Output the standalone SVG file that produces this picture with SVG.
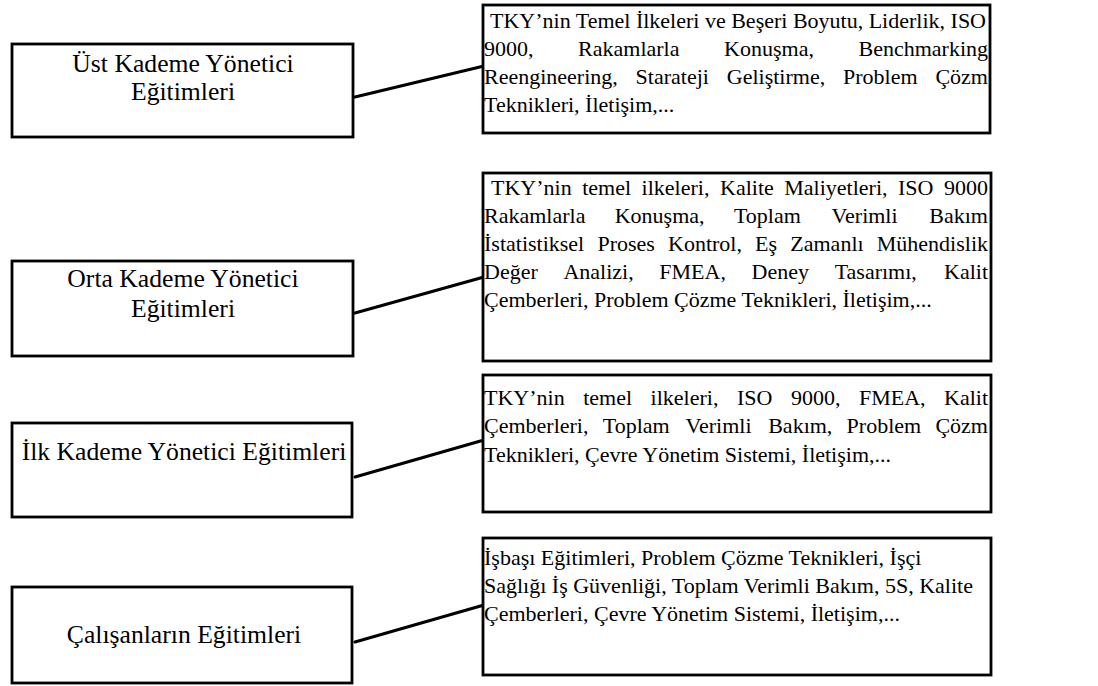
<svg xmlns="http://www.w3.org/2000/svg" width="1098" height="686" viewBox="0 0 1098 686">
<style>
.box{fill:#fff;stroke:#000;stroke-width:2.8}
.conn{stroke:#000;stroke-width:3;fill:none;stroke-linecap:round}
.l{font-family:"Liberation Serif","Times New Roman",serif;font-size:25.67px;fill:#000;text-anchor:middle}
.r{font-family:"Liberation Serif","Times New Roman",serif;font-size:22px;fill:#000}
</style>
<rect width="1098" height="686" fill="#fff"/>
<g id="connectors">
<line class="conn" x1="355" y1="97" x2="484" y2="66"/>
<line class="conn" x1="355" y1="313" x2="484" y2="277"/>
<line class="conn" x1="355" y1="477" x2="484" y2="440"/>
<line class="conn" x1="355" y1="642" x2="484" y2="605"/>
</g>
<g id="ust">
<rect class="box" x="12" y="44" width="341" height="93"/>
<text class="l" x="183" y="72">Üst Kademe Yönetici</text>
<text class="l" x="183" y="100">Eğitimleri</text>
</g>
<g id="orta">
<rect class="box" x="12" y="261" width="341" height="95"/>
<text class="l" x="183" y="287">Orta Kademe Yönetici</text>
<text class="l" x="183" y="317">Eğitimleri</text>
</g>
<g id="ilk">
<rect class="box" x="12" y="423" width="340" height="94"/>
<text class="l" x="184" y="460">İlk Kademe Yönetici Eğitimleri</text>
</g>
<g id="calisan">
<rect class="box" x="12" y="587" width="340" height="96"/>
<text class="l" x="184" y="643">Çalışanların Eğitimleri</text>
</g>
<g id="ust-icerik">
<rect class="box" x="483" y="5" width="507" height="128"/>
<text class="r" x="490" y="28">TKY’nin Temel İlkeleri ve Beşeri Boyutu, Liderlik, ISO</text>
<text class="r" y="56"><tspan x="484">9000,</tspan><tspan x="578.1">Rakamlarla</tspan><tspan x="724.1">Konuşma,</tspan><tspan x="858.5">Benchmarking</tspan></text>
<text class="r" y="84"><tspan x="484">Reengineering,</tspan><tspan x="635.6">Starateji</tspan><tspan x="726.8">Geliştirme,</tspan><tspan x="843">Problem</tspan><tspan x="935.4">Çözm</tspan></text>
<text class="r" x="484" y="112">Teknikleri, İletişim,...</text>
</g>
<g id="orta-icerik">
<rect class="box" x="483" y="173" width="508" height="188"/>
<text class="r" y="195"><tspan x="491">TKY’nin</tspan><tspan x="582.2">temel</tspan><tspan x="641.6">ilkeleri,</tspan><tspan x="720">Kalite</tspan><tspan x="784.3">Maliyetleri,</tspan><tspan x="898">ISO</tspan><tspan x="944">9000</tspan></text>
<text class="r" y="223"><tspan x="484">Rakamlarla</tspan><tspan x="614.7">Konuşma,</tspan><tspan x="733.9">Toplam</tspan><tspan x="831.6">Verimli</tspan><tspan x="929.3">Bakım</tspan></text>
<text class="r" y="251"><tspan x="484">İstatistiksel</tspan><tspan x="597.4">Proses</tspan><tspan x="668">Kontrol,</tspan><tspan x="755.1">Eş</tspan><tspan x="790.3">Zamanlı</tspan><tspan x="876.8">Mühendislik</tspan></text>
<text class="r" y="279"><tspan x="484">Değer</tspan><tspan x="563.4">Analizi,</tspan><tspan x="659.3">FMEA,</tspan><tspan x="751.6">Deney</tspan><tspan x="834.7">Tasarımı,</tspan><tspan x="944">Kalit</tspan></text>
<text class="r" x="484" y="307">Çemberleri, Problem Çözme Teknikleri, İletişim,...</text>
</g>
<g id="ilk-icerik">
<rect class="box" x="483" y="375" width="508" height="137"/>
<text class="r" y="405"><tspan x="484">TKY’nin</tspan><tspan x="583.2">temel</tspan><tspan x="650.6">ilkeleri,</tspan><tspan x="736.9">ISO</tspan><tspan x="790.9">9000,</tspan><tspan x="858.9">FMEA,</tspan><tspan x="944">Kalit</tspan></text>
<text class="r" y="433"><tspan x="484">Çemberleri,</tspan><tspan x="602.8">Toplam</tspan><tspan x="685.5">Verimli</tspan><tspan x="768.2">Bakım,</tspan><tspan x="846.6">Problem</tspan><tspan x="935.4">Çözm</tspan></text>
<text class="r" x="484" y="462">Teknikleri, Çevre Yönetim Sistemi, İletişim,...</text>
</g>
<g id="calisan-icerik">
<rect class="box" x="483" y="538" width="508" height="137"/>
<text class="r" x="484" y="565">İşbaşı Eğitimleri, Problem Çözme Teknikleri, İşçi</text>
<text class="r" x="484" y="593">Sağlığı İş Güvenliği, Toplam Verimli Bakım, 5S, Kalite</text>
<text class="r" x="484" y="621">Çemberleri, Çevre Yönetim Sistemi, İletişim,...</text>
</g>
</svg>
